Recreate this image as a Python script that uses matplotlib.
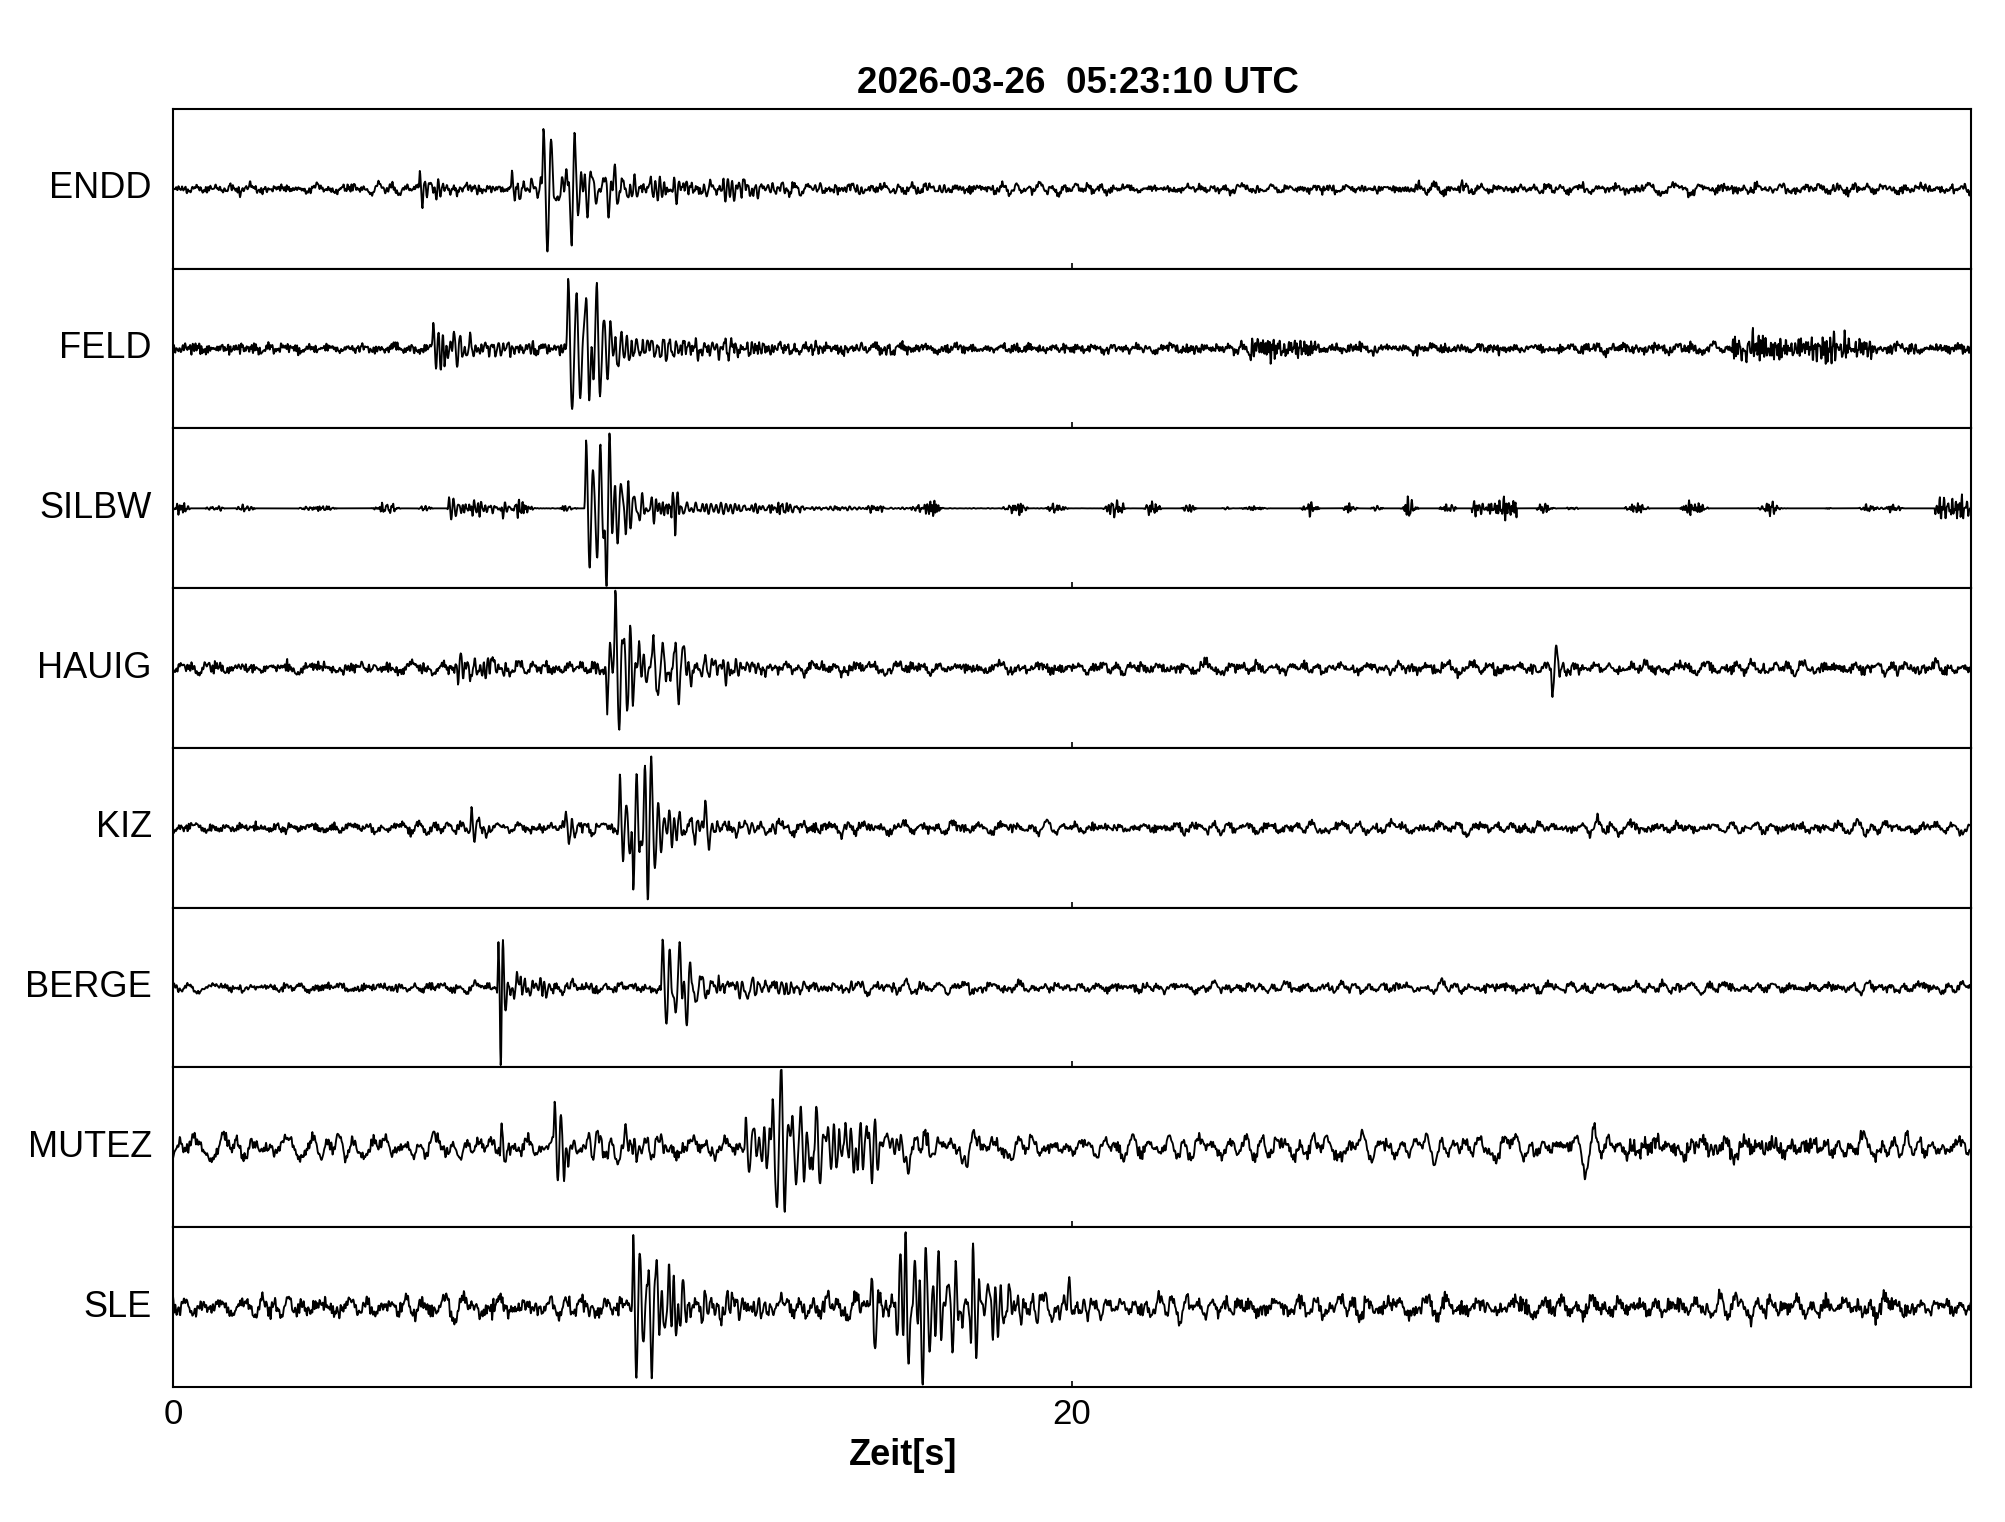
import numpy as np
import matplotlib
matplotlib.use("Agg")
import matplotlib.pyplot as plt

plt.rcParams['font.family'] = ['Liberation Sans', 'DejaVu Sans']

# --- values --------------------------------------------------------------
TITLE = "2026-03-26  05:23:10 UTC"
STATIONS = ["ENDD", "FELD", "SILBW", "HAUIG", "KIZ", "BERGE", "MUTEZ", "SLE"]
T_END = 40.0
XTICKS = [0, 20]

# background noise (approx. peak, in panel half-heights)
NOISE_LF = [0.06, 0.05, 0.00, 0.08, 0.08, 0.07, 0.19, 0.15]
NOISE_HF = [0.05, 0.06, 0.06, 0.06, 0.05, 0.045, 0.07, 0.09]
NOISE_GATED = [0, 0, 1, 0, 0, 0, 0, 0]

# stretches of raised noise: station index, start [s], end [s], peak level
RAISED_IDX = [1, 1, 2, 2, 6]
RAISED_T0 = [23.6, 34.7, 28.9, 39.2, 32.3]
RAISED_T1 = [25.4, 37.9, 29.9, 40.0, 38.1]
RAISED_LVL = [0.12, 0.16, 0.10, 0.16, 0.08]

# wave arrivals per station: onset [s], signed peak amplitude,
# duration of strong shaking [s], decay [s], freq [Hz]
EVENT_T = [
    [5.45, 7.5, 8.2, 8.5, 11.1],
    [5.75, 6.0, 6.0, 8.75, 9.0],
    [6.1, 7.3, 9.15, 9.6, 9.8],
    [6.3, 9.62, 9.8, 10.65, 10.0, 30.65],
    [6.6, 8.7, 9.9, 10.2, 10.6, 10.0, 11.8],
    [7.2, 7.25, 7.3, 10.85, 11.0, 12.1],
    [7.27, 8.45, 8.6, 12.7, 13.3, 13.5, 15.4],
    [10.2, 10.5, 15.5, 16.25, 17.75, 17.0, 19.9],
]
EVENT_A = [
    [0.22, 0.15, 0.88, 0.25, 0.15],
    [0.30, -0.42, 0.16, 0.90, 0.26],
    [0.14, -0.17, 0.85, -0.90, 0.26],
    [-0.22, -0.55, 0.90, 0.35, 0.20, -0.32],
    [0.28, 0.18, 0.65, -0.90, 0.40, 0.20, 0.30],
    [0.55, -0.92, 0.18, 0.60, 0.18, 0.25],
    [0.35, 0.50, 0.15, 0.40, 0.92, 0.35, 0.35],
    [0.92, 0.30, 0.45, 0.92, 0.62, 0.30, 0.25],
]
EVENT_HOLD = [
    [0.3, 0.5, 0.8, 1.5, 0.0],
    [0.5, 0.0, 0.8, 0.7, 1.5],
    [0.5, 0.0, 0.6, 0.0, 1.2],
    [0.3, 0.0, 0.25, 0.7, 1.0, 0.1],
    [0.1, 0.2, 0.4, 0.3, 0.4, 1.2, 0.0],
    [0.0, 0.0, 0.5, 0.4, 1.5, 0.0],
    [0.0, 0.1, 1.0, 0.4, 0.6, 1.2, 0.2],
    [0.5, 1.0, 0.6, 0.7, 0.5, 1.0, 0.0],
]
EVENT_TAU = [
    [0.6, 1.0, 0.4, 3.0, 0.3],
    [0.5, 0.08, 1.2, 0.4, 2.5],
    [0.5, 0.15, 0.35, 0.25, 1.8],
    [0.5, 0.1, 0.3, 0.6, 2.0, 0.3],
    [0.3, 0.4, 0.4, 0.35, 0.4, 2.0, 0.2],
    [0.08, 0.06, 1.0, 0.35, 2.5, 0.2],
    [0.15, 0.2, 1.5, 1.0, 0.4, 2.0, 0.3],
    [0.4, 2.5, 0.8, 0.5, 0.5, 2.0, 0.15],
]
EVENT_F = [
    [9, 8, 5.5, 7, 9],
    [8, 10, 9, 5.5, 7],
    [10, 10, 6, 6, 8],
    [8, 7, 6, 5, 7, 6],
    [7, 7, 6, 6, 6, 6, 6],
    [9, 9, 8, 5.5, 7, 7],
    [6, 7, 7, 6, 5.5, 6, 5],
    [7, 6, 6, 6, 6, 6, 6],
]

FS = 100.0
t = np.arange(0, T_END, 1.0 / FS)


def hash01(n, seed):
    return np.mod(np.sin(n * 12.9898 + seed * 78.233) * 43758.5453, 1.0)


def texture(fmin, fmax, seed, n=150):
    # band-limited wiggle built from many sines, unit std
    k = np.arange(n)
    f = fmin + (fmax - fmin) * hash01(k, seed)
    ph = 2 * np.pi * hash01(k, seed + 17.31)
    s = np.sin(2 * np.pi * f[:, None] * t[None, :] + ph[:, None]).sum(0)
    return s / s.std()


def arrival(t0, a, hold, tau, f, seed, rise=0.04):
    tt = t - t0
    env = np.ones_like(t)
    env[tt < rise] = np.clip(tt[tt < rise] / rise, 0, None)
    late = tt > rise + hold
    env[late] = np.exp(-(tt[late] - rise - hold) / tau)
    x = tt - rise
    w = np.exp(-(x * f / 1.2) ** 2)
    car = w * np.cos(2 * np.pi * f * x) + (1 - w) * texture(0.6 * f, 1.7 * f, seed, 60) / 2.6
    return a * env * car


traces = []
for i, name in enumerate(STATIONS):
    lf = texture(0.8, 4.0, 1.3 * i + 0.5) * NOISE_LF[i] / 2.5
    hf = texture(6.0, 25.0, 2.7 * i + 0.9) * NOISE_HF[i] / 2.5
    if NOISE_GATED[i]:
        gate = np.clip(texture(0.3, 1.5, 5.1), 0, None)
        hf = hf * gate
    y = lf + hf
    for j, ri in enumerate(RAISED_IDX):
        if ri == i:
            m = (t >= RAISED_T0[j]) & (t <= RAISED_T1[j])
            y = y + m * texture(8.0, 25.0, 9.7 + j * 1.13) * RAISED_LVL[j] / 2.5
    ev = zip(EVENT_T[i], EVENT_A[i], EVENT_HOLD[i], EVENT_TAU[i], EVENT_F[i])
    for j, (t0, a, hold, tau, f) in enumerate(ev):
        y = y + arrival(t0, a, hold, tau, f, 31.0 + 3.3 * i + 0.77 * j)
    traces.append(np.clip(y, -0.97, 0.97))

fig, axes = plt.subplots(len(STATIONS), 1, sharex=True, figsize=(20.05, 15.22), dpi=100)
fig.subplots_adjust(left=0.0863, right=0.983, bottom=0.0887, top=0.9284, hspace=0)

for ax, name, y in zip(axes, STATIONS, traces):
    ax.plot(t, y, color='black', lw=1.35)
    ax.set_xlim(0, T_END)
    ax.set_ylim(-1, 1)
    ax.set_yticks([])
    ax.set_xticks(XTICKS)
    ax.tick_params(axis='x', direction='in', length=4, width=1.2, labelsize=25, pad=8)
    for sp in ax.spines.values():
        sp.set_linewidth(1.5)
    ax.text(-0.0117, 0.5, name, transform=ax.transAxes, ha='right', va='center',
            fontsize=26)

axes[-1].set_xticklabels([str(v) for v in XTICKS])
fig.text(0.5377, 0.945, TITLE, ha='center', va='center', fontsize=26.5, fontweight='bold')
fig.text(0.4504, 0.044, "Zeit[s]", ha='center', va='center', fontsize=26, fontweight='bold')

fig.savefig("out.png", dpi=100)
